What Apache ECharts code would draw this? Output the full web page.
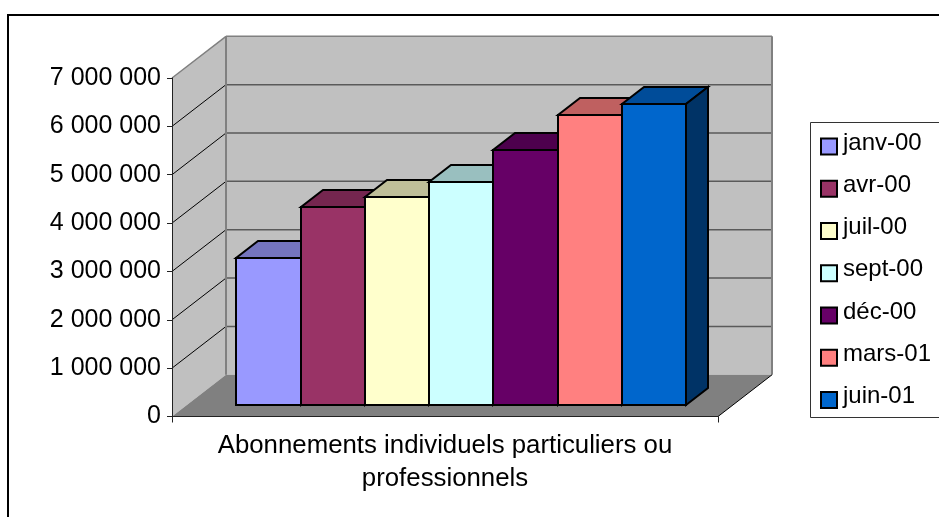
<!DOCTYPE html>
<html lang="fr">
<head>
    <meta charset="UTF-8">
    <title>Abonnements</title>
    <style>
      html, body { margin: 0; padding: 0; background: #fff; }
      #container { width: 939px; height: 517px; }
    </style>
    <script src="https://cdn.jsdelivr.net/npm/echarts@6/dist/echarts.min.js"></script>
</head>
<body>
  <div id="container"></div>

  <script type="text/javascript">
    // values
    const months = ['janv-00', 'avr-00', 'juil-00', 'sept-00', 'déc-00', 'mars-01', 'juin-01'];
    const subscribers = [3040000, 4100000, 4300000, 4600000, 5260000, 6000000, 6220000];
    const category = ['Abonnements individuels particuliers ou\nprofessionnels'];
    const wallTicks = [1000000, 2000000, 3000000, 4000000, 5000000, 6000000];
    const axisMax = 7000000;

    // front, top and side face of each bar
    const frontColors = ['#9999FF', '#993366', '#FFFFCC', '#CCFFFF', '#660066', '#FF8080', '#0066CC'];
    const topColors = ['#7575BF', '#75264F', '#BFBF99', '#99BFBF', '#4D004D', '#BF6060', '#004C99'];
    const sideColors = ['#4D4D80', '#4D1A33', '#808066', '#668080', '#330033', '#804040', '#003366'];

    // box depth of the chart and of the bars, in pixels
    const wallDx = 54, wallDy = 41.7;
    const planeDx = 16.2, planeDy = 11.7;
    const barDx = 21.5, barDy = 16.5;

    function poly(points, fill, stroke, width) {
      return {
        type: 'polygon',
        shape: { points: points },
        style: { fill: fill, stroke: stroke || null, lineWidth: width || 0, lineJoin: 'miter' }
      };
    }

    function seg(x1, y1, x2, y2, stroke, width) {
      return {
        type: 'line',
        shape: { x1: x1, y1: y1, x2: x2, y2: y2 },
        style: { stroke: stroke, lineWidth: width }
      };
    }

    function renderWalls(params, api) {
      const band = api.size([1, 0])[0];
      const low = api.coord([0, 0]);
      const high = api.coord([0, axisMax]);
      const l = low[0] - band / 2, r = low[0] + band / 2;
      const y0 = low[1], y1 = high[1];
      const children = [
        poly([[l + wallDx, y0 - wallDy], [r + wallDx, y0 - wallDy], [r + wallDx, y1 - wallDy], [l + wallDx, y1 - wallDy]], '#C0C0C0'),
        poly([[l, y0], [l + wallDx, y0 - wallDy], [l + wallDx, y1 - wallDy], [l, y1]], '#C0C0C0'),
        poly([[l, y0], [r, y0], [r + wallDx, y0 - wallDy], [l + wallDx, y0 - wallDy]], '#808080')
      ];
      wallTicks.forEach(function (v) {
        const y = api.coord([0, v])[1];
        children.push(seg(l + wallDx, y - wallDy, r + wallDx, y - wallDy, '#5A5A5A', 1.5));
        children.push(seg(l, y, l + wallDx, y - wallDy, '#000', 1));
      });
      children.push(seg(l, y1, l + wallDx, y1 - wallDy, '#808080', 1.5));
      children.push(seg(l + wallDx, y1 - wallDy, r + wallDx, y1 - wallDy, '#808080', 1.5));
      children.push(seg(l + wallDx, y1 - wallDy, l + wallDx, y0 - wallDy, '#808080', 2));
      children.push(seg(r + wallDx, y1 - wallDy, r + wallDx, y0 - wallDy, '#808080', 2));
      children.push(seg(r, y0, r + wallDx, y0 - wallDy, '#000', 1));
      return { type: 'group', children: children };
    }

    function renderBar(params, api) {
      const slot = api.value(2);
      const band = api.size([1, 0])[0];
      const w = band / (months.length + 1.5);
      const base = api.coord([0, 0]);
      const top = api.coord([0, api.value(1)]);
      // snap to whole pixels so the 2px outline stays crisp
      const x0 = Math.round(base[0] - band / 2 + w * (0.75 + slot) + planeDx);
      const x1 = Math.round(base[0] - band / 2 + w * (1.75 + slot) + planeDx);
      const yb = Math.round(base[1] - planeDy);
      const yt = Math.round(top[1] - planeDy);
      const dx = Math.round(barDx), dy = Math.round(barDy);
      return {
        type: 'group',
        children: [
          poly([[x0, yt], [x1, yt], [x1 + dx, yt - dy], [x0 + dx, yt - dy]], topColors[slot], '#000', 2),
          poly([[x1, yb], [x1 + dx, yb - dy], [x1 + dx, yt - dy], [x1, yt]], sideColors[slot], '#000', 2),
          poly([[x0, yb], [x1, yb], [x1, yt], [x0, yt]], frontColors[slot], '#000', 2)
        ]
      };
    }

    const series = [{
      name: 'murs',
      type: 'custom',
      renderItem: renderWalls,
      data: [[0, axisMax]],
      encode: { x: 0, y: 1 },
      z: 1,
      silent: true
    }];

    months.forEach(function (m, i) {
      series.push({
        name: m,
        type: 'custom',
        renderItem: renderBar,
        data: [[0, subscribers[i], i]],
        encode: { x: 0, y: 1 },
        itemStyle: { color: frontColors[i], borderColor: '#000', borderWidth: 2 },
        z: 2 + i
      });
    });

    var dom = document.getElementById('container');
    var myChart = echarts.init(dom, null, { renderer: 'canvas' });

    var option = {
      animation: false,
      backgroundColor: '#fff',
      textStyle: { fontFamily: '"Liberation Sans", Arial, sans-serif' },
      grid: { left: 172, top: 78, width: 546, height: 338.5 },
      graphic: [
        {
          type: 'rect',
          z: 0,
          silent: true,
          shape: { x: 8, y: 15, width: 1000, height: 1000 },
          style: { fill: null, stroke: '#000', lineWidth: 2 }
        },
        {
          type: 'rect',
          z: 0,
          silent: true,
          shape: { x: 810.5, y: 122.5, width: 300, height: 295 },
          style: { fill: null, stroke: '#333', lineWidth: 1 }
        }
      ],
      legend: {
        data: months,
        orient: 'vertical',
        left: 820,
        top: 131,
        padding: 0,
        itemWidth: 16,
        itemHeight: 16,
        itemGap: 14.73,
        icon: 'rect',
        // text sits a little above the swatch, so the line is made taller than the text
        formatter: '{t|{name}}{s| }',
        textStyle: {
          color: '#000',
          rich: {
            t: { fontSize: 24, lineHeight: 24, verticalAlign: 'top', color: '#000', padding: [0, 0, 0, 1] },
            s: { fontSize: 24, lineHeight: 31 }
          }
        }
      },
      xAxis: {
        type: 'category',
        data: category,
        z: 20,
        axisLine: { lineStyle: { color: '#222', width: 1 } },
        axisTick: { show: true, length: 6, lineStyle: { color: '#222' } },
        axisLabel: { fontSize: 25.8, lineHeight: 33, color: '#000', margin: 13, interval: 0 }
      },
      yAxis: {
        type: 'value',
        min: 0,
        max: axisMax,
        interval: 1000000,
        z: 20,
        splitLine: { show: false },
        axisLine: { show: true, lineStyle: { color: '#222', width: 1 } },
        axisTick: { show: true, length: 5, lineStyle: { color: '#222' } },
        axisLabel: {
          fontSize: 25,
          color: '#000',
          margin: 11,
          formatter: function (v) { return String(v).replace(/\B(?=(\d{3})+$)/g, ' '); }
        }
      },
      series: series
    };

    myChart.setOption(option);
    window.addEventListener('resize', myChart.resize);
  </script>
</body>
</html>
